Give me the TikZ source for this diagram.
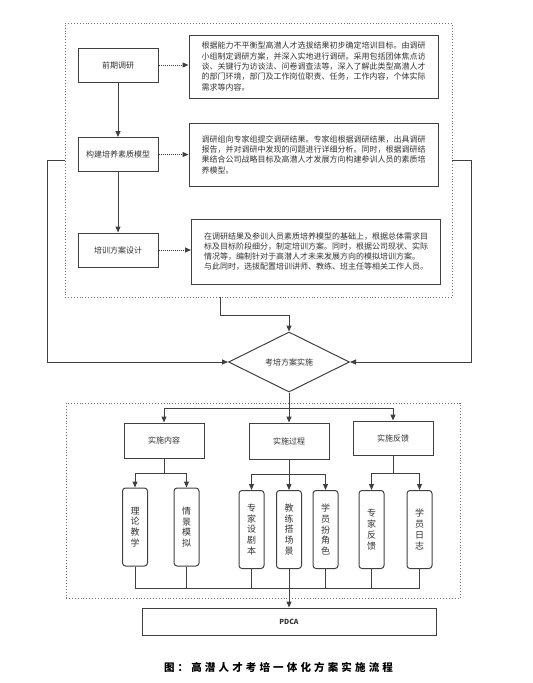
\documentclass[tikz,border=0pt]{standalone}
\usepackage{fontspec}
\setmainfont{Noto Sans CJK SC}
\usetikzlibrary{arrows.meta,shapes.geometric}

\colorlet{line edge}{black!75}
\colorlet{frame edge}{black!55}
\colorlet{label text}{black!80}
\tikzset{box/.style={draw=line edge, line width=1pt, minimum width=80pt, minimum height=34pt,
        text=label text, font=\fontsize{8}{10}\selectfont},
    textbox/.style={draw=line edge, line width=1pt, minimum width=249pt, minimum height=63pt,
        align=left, text=label text, font=\fontsize{8}{10.3}\selectfont},
    tallbox/.style={draw=line edge, line width=1pt, rounded corners=3pt, minimum width=25pt,
        minimum height=78pt, align=center, text=label text, font=\fontsize{9}{10.8}\selectfont},
    decision/.style={diamond, aspect=2, draw=line edge, line width=1pt, inner sep=0pt,
        minimum width=121pt, minimum height=60pt, text=label text, font=\fontsize{8}{10}\selectfont},
    frame/.style={draw=frame edge, dotted, line width=0.9pt},
    line/.style={draw=line edge, line width=1pt},
    arrow/.style={line, -{Triangle[length=6pt,width=5pt]}},
    dotarrow/.style={arrow, densely dotted}}

\begin{document}
\begin{tikzpicture}[x=1pt, y=-1pt]
    \useasboundingbox (0,0) rectangle (533,683);
    % preparation stage
    \node[frame, minimum width=387pt, minimum height=274pt] (plan) at (258.5,160) {};
    \node[box] (survey) at (118,65) {前期调研};
    \node[box] (model) at (118,154.5) {构建培养素质模型};
    \node[box] (design) at (118,250) {培训方案设计};
    \node[textbox] (surveytxt) at (313.5,66.5) {根据能力不平衡型高潜人才选拔结果初步确定培训目标。由调研\\
        小组制定调研方案，并深入实地进行调研。采用包括团体焦点访\\
        谈、关键行为访谈法、问卷调查法等，深入了解此类型高潜人才\\
        的部门环境，部门及工作岗位职责、任务，工作内容，个体实际\\
        需求等内容。};
    \node[textbox] (modeltxt) at (313.5,154.5) {调研组向专家组提交调研结果。专家组根据调研结果，出具调研\\
        报告，并对调研中发现的问题进行详细分析。同时，根据调研结\\
        果结合公司战略目标及高潜人才发展方向构建参训人员的素质培\\
        养模型。};
    \node[textbox, minimum height=65pt] (designtxt) at (316,251.5) {在调研结果及参训人员素质培养模型的基础上，根据总体需求目\\
        标及目标阶段细分，制定培训方案。同时，根据公司现状、实际\\
        情况等，编制针对于高潜人才未来发展方向的模拟培训方案。\\
        与此同时，选拔配置培训讲师、教练、班主任等相关工作人员。};
    \draw[arrow] (survey) -- (model);
    \draw[arrow] (model) -- (design);
    \draw[dotarrow] (survey) -- (survey -| surveytxt.west);
    \draw[dotarrow] (model) -- (model -| modeltxt.west);
    \draw[dotarrow] (design) -- (design -| designtxt.west);

    % implementation
    \node[decision] (exam) at (289,362) {考培方案实施};
    \draw[arrow] ([xshift=-38.5pt]plan.south) -- ++(0,18) -| (exam.north);
    \draw[arrow] (plan.west) -- ++(-17,0) |- (exam.west);
    \draw[arrow] (plan.east) -- ++(19,0) |- (exam.east);

    \node[frame, minimum width=394pt, minimum height=195pt] (run) at (263,500.5) {};
    \node[box, minimum height=35pt] (content) at (164,440.5) {实施内容};
    \node[box, minimum height=36pt] (process) at (289,441) {实施过程};
    \node[box] (feedback) at (393,438) {实施反馈};
    \draw[arrow] (exam.south) -- ++(0,16) -| (content.north);
    \draw[arrow] (exam.south) -- (process.north);
    \draw[arrow] (exam.south) -- ++(0,16) -| (feedback.north);

    \node[tallbox] (theory) at (135,527) {理\\论\\教\\学};
    \node[tallbox] (scene) at (186.5,527) {情\\景\\模\\拟};
    \node[tallbox] (script) at (251.5,529.5) {专\\家\\设\\剧\\本};
    \node[tallbox] (stage) at (289,529.5) {教\\练\\搭\\场\\景};
    \node[tallbox] (role) at (325.5,529.5) {学\\员\\扮\\角\\色};
    \node[tallbox] (expert) at (371.5,529.5) {专\\家\\反\\馈};
    \node[tallbox] (diary) at (419.5,529.5) {学\\员\\日\\志};
    \draw[arrow] (content.south) -- ++(0,15) -| (theory.north);
    \draw[arrow] (content.south) -- ++(0,15) -| (scene.north);
    \draw[arrow] (process.south) -- ++(0,14.5) -| (script.north);
    \draw[arrow] (process.south) -- (stage.north);
    \draw[arrow] (process.south) -- ++(0,14.5) -| (role.north);
    \draw[arrow] (feedback.south) -- ++(0,18) -| (expert.north);
    \draw[arrow] (feedback.south) -- ++(0,18) -| (diary.north);

    % collect into PDCA
    \coordinate (merge) at (289,588);
    \node[box, minimum width=294pt, minimum height=27pt, font=\bfseries\fontsize{7}{8}\selectfont] (pdca) at (289,621.5) {PDCA};
    \draw[line] (theory.south) |- (merge);
    \draw[line] (scene.south) |- (merge);
    \draw[line] (script.south) |- (merge);
    \draw[line] (role.south) |- (merge);
    \draw[line] (expert.south) |- (merge);
    \draw[line] (diary.south) |- (merge);
    \draw[arrow] (stage.south) -- (pdca.north);

    \node[text=black, font=\bfseries\fontsize{10.5}{12}\selectfont\addfontfeature{LetterSpace=30}] (caption) at (278.5,667) {图：高潜人才考培一体化方案实施流程};
\end{tikzpicture}
\end{document}
